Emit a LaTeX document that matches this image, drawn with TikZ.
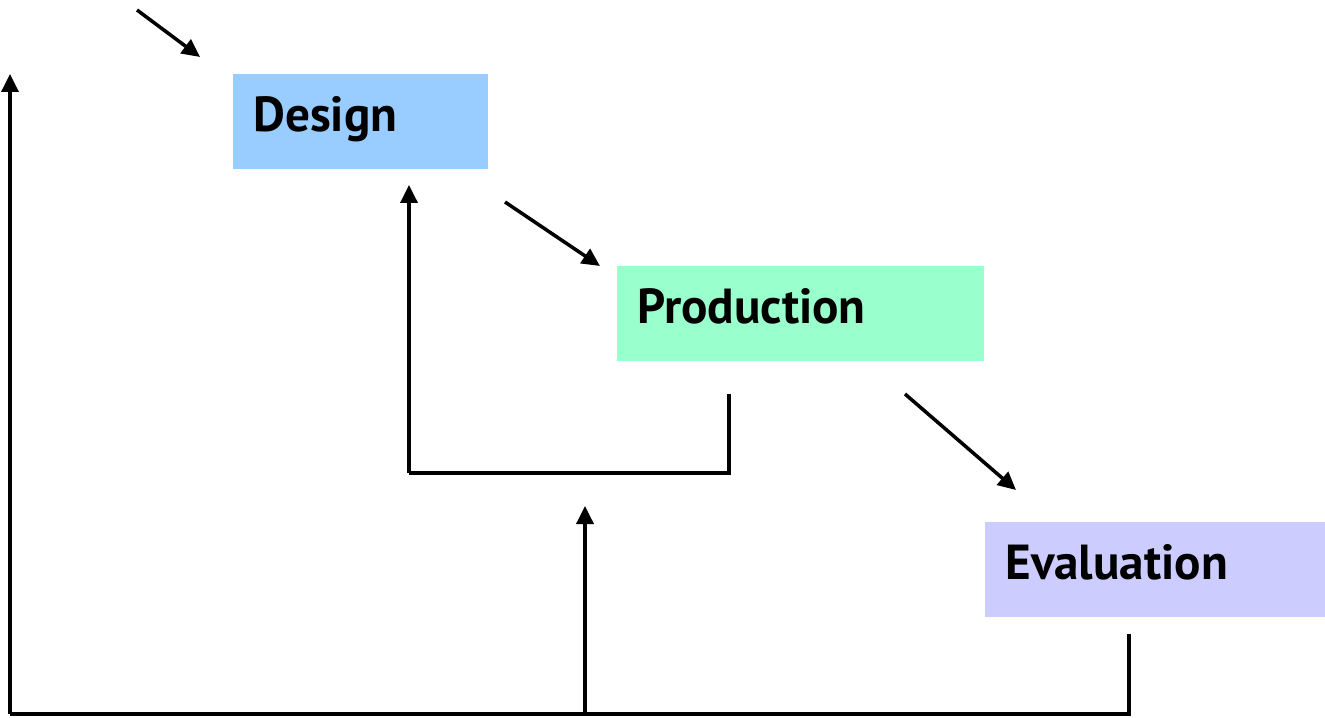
\documentclass[tikz,border=0pt]{standalone}
\usepackage{fontspec}
\setmainfont{PT Sans}
\usetikzlibrary{positioning,calc}
\usetikzlibrary{arrows.meta}
\definecolor{DesignBlue}{RGB}{153,204,255}
\definecolor{ProdGreen}{RGB}{153,255,204}
\definecolor{EvalLilac}{RGB}{204,204,255}
\tikzset{
  stage/.style={anchor=north west,inner xsep=0.4cm,inner ysep=0pt,minimum height=1.9cm,
    text height=0.8cm,text depth=0.4cm,
    align=left,font=\bfseries\fontsize{28}{30}\selectfont},
  flow/.style={draw=black,line width=2pt,-{Triangle[length=0.36cm,width=0.34cm]}},
  back/.style={draw=black,line width=2pt},
}

\begin{document}
\begin{tikzpicture}
\useasboundingbox (0,0) rectangle (26.5,14.34);
\node[stage,fill=DesignBlue,text width=4.3cm] (design) at (4.66,12.86) {Design};
\node[stage,fill=ProdGreen,text width=6.54cm] (production) at (12.34,9.02) {Production};
\node[stage,fill=EvalLilac,text width=6.0cm] (evaluation) at (19.70,3.90) {Evaluation};
\coordinate (in1) at (2.74,14.14);
\coordinate (in2) at (4.00,13.20);
\coordinate (d1) at (10.10,10.30);
\coordinate (d2) at (12.00,9.02);
\coordinate (p1) at (18.10,6.46);
\coordinate (p2) at (20.32,4.54);
\coordinate (f1) at (14.58,6.46);
\coordinate (f2) at (14.58,4.88);
\coordinate (f3) at (8.18,4.88);
\coordinate (f4) at (8.18,10.64);
\coordinate (e1) at (22.58,1.66);
\coordinate (e2) at (22.58,0.06);
\coordinate (e3) at (0.20,0.06);
\coordinate (e4) at (0.20,12.86);
\coordinate (m1) at (11.70,0.06);
\coordinate (m2) at (11.70,4.22);
\draw[flow] (in1) -- (in2);
\draw[flow] (d1) -- (d2);
\draw[flow] (p1) -- (p2);
\draw[back] (f1) -- (f2) -- (f3);
\draw[flow] (f3) -- (f4);
\draw[back] (e1) -- (e2) -- (e3);
\draw[flow] (e3) -- (e4);
\draw[flow] (m1) -- (m2);
\end{tikzpicture}
\end{document}
